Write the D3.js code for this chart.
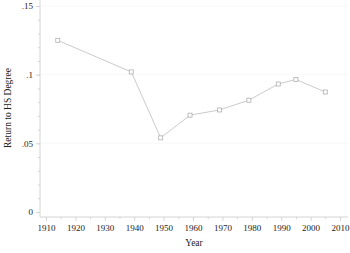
<!doctype html>
<html>
<head>
<style>
    body { margin: 0; background: #fff; }
    text { font-family: "Liberation Serif", "DejaVu Serif", serif; fill: #222; }
</style>
<script src="https://d3js.org/d3.v7.min.js"></script>
</head>
<body>
<svg width="350" height="253"></svg>
<script>
    var years = [1914, 1939, 1949, 1959, 1969, 1979, 1989, 1995, 2005];
    var returns = [0.125, 0.102, 0.054, 0.0705, 0.0743, 0.0814, 0.0932, 0.0965, 0.0874];
    var xTicks = [1910, 1920, 1930, 1940, 1950, 1960, 1970, 1980, 1990, 2000, 2010];
    var yTicks = [0, 0.05, 0.1, 0.15];
    var yTickLabels = ["0", ".05", ".1", ".15"];

    var svg = d3.select("svg");

    var x = d3.scaleLinear().domain([1910, 2010]).range([46, 340]);
    var y = d3.scaleLinear().domain([0, 0.15]).range([212, 6]);

    var axisColor = "#d4d4d4";

    // faint gridlines
    svg.append("g").selectAll("line")
        .data(yTicks.slice(1))
        .enter().append("line")
        .attr("x1", 40).attr("x2", 348)
        .attr("y1", function(d) { return y(d); })
        .attr("y2", function(d) { return y(d); })
        .attr("stroke", "#f4f4f4")
        .attr("stroke-width", 0.6);

    // y axis
    var yAxis = svg.append("g").attr("transform", "translate(40,0)");
    yAxis.call(d3.axisLeft(y).tickValues(yTicks).tickSize(4).tickPadding(3)
        .tickFormat(function(d, i) { return yTickLabels[i]; }));
    yAxis.append("g").call(d3.axisLeft(y).tickValues(d3.range(0, 0.151, 0.01)).tickSize(2).tickFormat(""));
    yAxis.selectAll(".domain").remove();
    yAxis.append("line").attr("x1", 0).attr("x2", 0).attr("y1", 0).attr("y2", 217);
    yAxis.selectAll("line").attr("stroke", axisColor);
    yAxis.selectAll("text").attr("font-size", 9).attr("font-family", "Liberation Serif").attr("fill", "#222");

    // x axis
    var xAxis = svg.append("g").attr("transform", "translate(0,217)");
    xAxis.call(d3.axisBottom(x).tickValues(xTicks).tickSize(4).tickPadding(4).tickFormat(d3.format("d")));
    xAxis.append("g").call(d3.axisBottom(x).tickValues(d3.range(1915, 2010, 10)).tickSize(2).tickFormat(""));
    xAxis.selectAll(".domain").remove();
    xAxis.append("line").attr("x1", 40).attr("x2", 348).attr("y1", 0).attr("y2", 0);
    xAxis.selectAll("line").attr("stroke", axisColor);
    xAxis.selectAll("text").attr("font-size", 9).attr("font-family", "Liberation Serif").attr("fill", "#222");

    // titles
    svg.append("text")
        .attr("x", 194).attr("y", 246)
        .attr("text-anchor", "middle")
        .attr("font-size", 9.5)
        .text("Year");

    svg.append("text")
        .attr("transform", "translate(11,108) rotate(-90)")
        .attr("text-anchor", "middle")
        .attr("font-size", 9.5)
        .text("Return to HS Degree");

    // line + markers
    var pts = years.map(function(d, i) { return [d, returns[i]]; });

    svg.append("path")
        .datum(pts)
        .attr("fill", "none")
        .attr("stroke", "#c4c4c4")
        .attr("stroke-width", 0.9)
        .attr("d", d3.line()
            .x(function(d) { return x(d[0]); })
            .y(function(d) { return y(d[1]); }));

    svg.append("g").selectAll("rect")
        .data(pts)
        .enter().append("rect")
        .attr("x", function(d) { return x(d[0]) - 2; })
        .attr("y", function(d) { return y(d[1]) - 2; })
        .attr("width", 4)
        .attr("height", 4)
        .attr("fill", "#fff")
        .attr("stroke", "#b0b0b0")
        .attr("stroke-width", 0.8);
</script>
</body>
</html>
